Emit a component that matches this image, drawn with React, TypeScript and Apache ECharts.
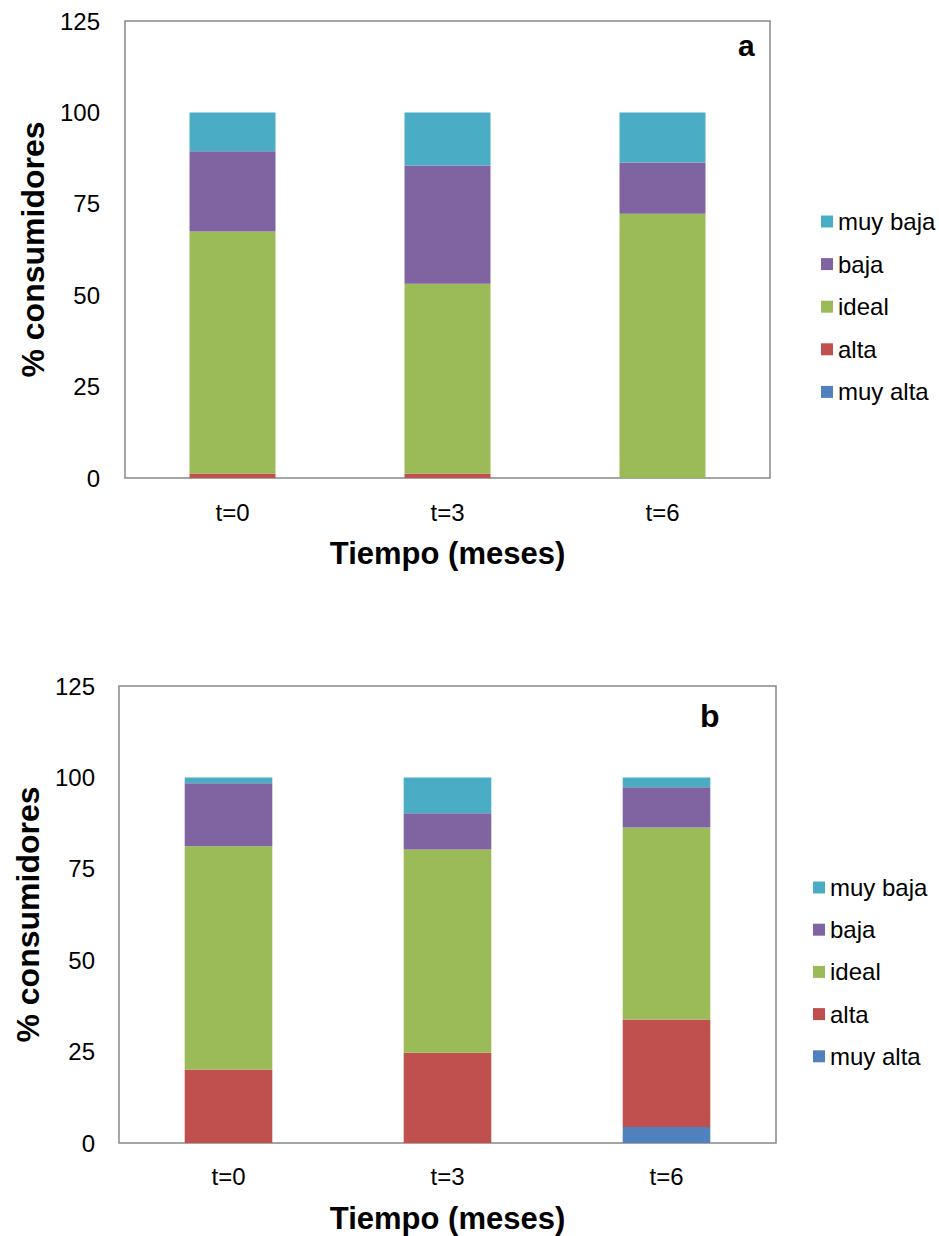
import React, { useEffect, useRef } from "react";
import * as echarts from "echarts";

const categories = ["t=0", "t=3", "t=6"];
const seriesNames = ["muy alta", "alta", "ideal", "baja", "muy baja"];
const legendOrder = ["muy baja", "baja", "ideal", "alta", "muy alta"];
const colors = ["#4F81BD", "#C0504D", "#9BBB59", "#8064A2", "#4BACC6"];

// Panel a (stack order: muy alta, alta, ideal, baja, muy baja)
const aMuyAlta = [0, 0, 0];
const aAlta = [1.2, 1.2, 0];
const aIdeal = [66.2, 51.9, 72.3];
const aBaja = [22.0, 32.4, 14.0];
const aMuyBaja = [10.6, 14.5, 13.7];

// Panel b
const bMuyAlta = [0, 0, 4.4];
const bAlta = [20.1, 24.7, 29.4];
const bIdeal = [61.1, 55.6, 52.5];
const bBaja = [17.2, 9.9, 11.0];
const bMuyBaja = [1.6, 9.8, 2.7];

const yTicks = { min: 0, max: 125, interval: 25 };

const FONT = "Liberation Sans, Arial, sans-serif";

export default function App() {
  const ref = useRef<HTMLDivElement>(null);
  useEffect(() => {
    if (!ref.current) return;
    const chart = echarts.init(ref.current, null, { renderer: "svg" });
    const aData = [aMuyAlta, aAlta, aIdeal, aBaja, aMuyBaja];
    const bData = [bMuyAlta, bAlta, bIdeal, bBaja, bMuyBaja];

    const makeSeries = (data: number[][], idx: number) =>
      data.map((vals, i) => ({
        name: seriesNames[i],
        type: "bar",
        stack: "s" + idx,
        xAxisIndex: idx,
        yAxisIndex: idx,
        barWidth: "40%",
        data: vals,
        itemStyle: { color: colors[i] },
        emphasis: { disabled: true },
      }));

    const xAxisCfg = (idx: number) => ({
      type: "category",
      gridIndex: idx,
      data: categories,
      axisLine: { show: false },
      axisTick: { show: false },
      axisLabel: { fontSize: 24, color: "#000", fontFamily: FONT, margin: idx === 0 ? 22 : 21 },
      name: "Tiempo (meses)",
      nameLocation: "middle",
      nameGap: 60,
      nameTextStyle: { fontSize: 31, fontWeight: "bold", color: "#000", fontFamily: FONT },
    });

    const yAxisCfg = (idx: number) => ({
      type: "value",
      gridIndex: idx,
      min: yTicks.min,
      max: yTicks.max,
      interval: yTicks.interval,
      splitLine: { show: false },
      axisLine: { show: false },
      axisTick: { show: false },
      axisLabel: { fontSize: 24, color: "#000", fontFamily: FONT, margin: idx === 0 ? 25 : 24 },
      name: "% consumidores",
      nameLocation: "middle",
      nameGap: 73,
      nameTextStyle: { fontSize: 32, fontWeight: "bold", color: "#000", fontFamily: FONT },
    });

    const legendCfg = (left: number, top: number, gap: number) => ({
      orient: "vertical",
      left,
      top,
      padding: 0,
      data: legendOrder,
      itemWidth: 12,
      itemHeight: 12,
      itemGap: gap,
      icon: "rect",
      selectedMode: false,
      textStyle: { fontSize: 24, lineHeight: 24, color: "#000", fontFamily: FONT },
    });

    chart.setOption({
      animation: false,
      backgroundColor: "#fff",
      grid: [
        { left: 125, top: 21, width: 645, height: 457, show: true, borderColor: "#888", borderWidth: 1.5, backgroundColor: "transparent" },
        { left: 119, top: 686, width: 657, height: 457, show: true, borderColor: "#888", borderWidth: 1.5, backgroundColor: "transparent" },
      ],
      xAxis: [xAxisCfg(0), xAxisCfg(1)],
      yAxis: [yAxisCfg(0), yAxisCfg(1)],
      legend: [legendCfg(821, 209.5, 18.6), legendCfg(813, 875.5, 18.2)],
      series: [...makeSeries(aData, 0), ...makeSeries(bData, 1)],
      graphic: [
        { type: "text", left: 747 - 9, top: 47 - 17, style: { text: "a", font: "bold 30px " + FONT, fill: "#000" } },
        { type: "text", left: 710 - 10, top: 718 - 18, style: { text: "b", font: "bold 32px " + FONT, fill: "#000" } },
      ],
    });
    return () => chart.dispose();
  }, []);
  return <div ref={ref} style={{ position: "absolute", left: 0, top: 0, width: 939, height: 1236 }} />;
}
